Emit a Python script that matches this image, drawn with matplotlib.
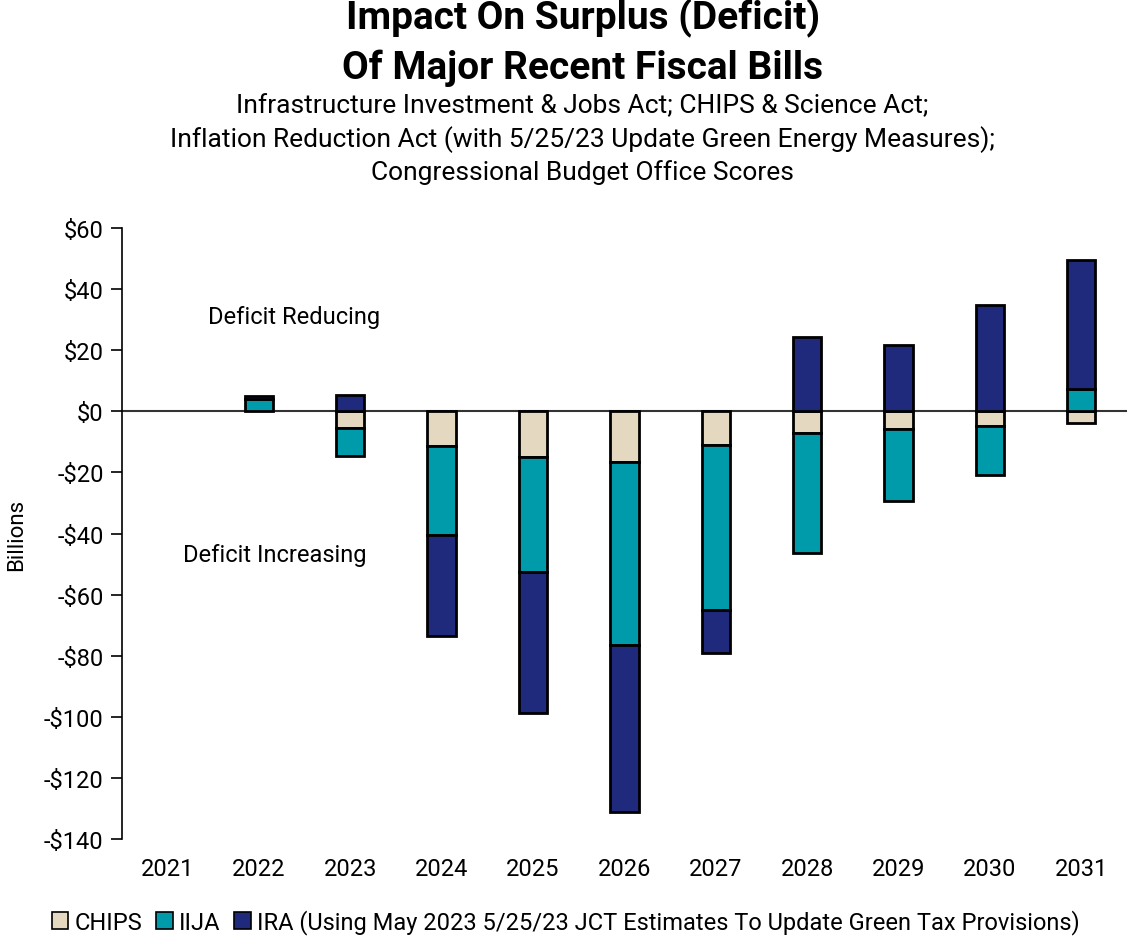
import numpy as np
import matplotlib
matplotlib.use("Agg")
import matplotlib.pyplot as plt

plt.rcParams["font.family"] = ["Roboto", "DejaVu Sans"]

# CBO scores, $ billions (positive = deficit reducing)
years = ["2021", "2022", "2023", "2024", "2025", "2026", "2027", "2028", "2029", "2030", "2031"]
chips = [0.0, 0.0, -5.5, -11.4, -14.9, -16.5, -11.0, -7.1, -5.9, -4.8, -3.7]
iija = [0.0, 4.2, -9.1, -29.2, -37.7, -59.9, -53.9, -39.3, -23.3, -16.1, 7.2]
ira = [0.0, 0.8, 5.4, -32.8, -46.1, -54.6, -14.2, 24.4, 21.6, 34.8, 42.4]

series = [
    ("CHIPS", chips, "#E4D9C0"),
    ("IIJA", iija, "#009BAA"),
    ("IRA (Using May 2023 5/25/23 JCT Estimates To Update Green Tax Provisions)", ira, "#1F2A7C"),
]

fig = plt.figure(figsize=(11.27, 9.37), dpi=100)
ax = fig.add_axes([0.108, 0.1035, 0.892, 0.652])

x = np.arange(len(years))
pos_base = np.zeros(len(years))
neg_base = np.zeros(len(years))
handles = []
for name, vals, color in series:
    v = np.array(vals)
    base = np.where(v >= 0, pos_base, neg_base)
    # zero entries are left out so no empty outline is drawn
    shown = np.where(v == 0, np.nan, v)
    b = ax.bar(x, shown, width=0.31, bottom=base, color=color, edgecolor="black",
               linewidth=2, label=name, zorder=3)
    handles.append(b)
    pos_base += np.where(v > 0, v, 0)
    neg_base += np.where(v < 0, v, 0)

ax.axhline(0, color="#333333", linewidth=1.5, zorder=2)

ax.set_xlim(-0.5, len(years) - 0.5)
ax.set_ylim(-140, 60)
ax.set_yticks(np.arange(-140, 61, 20))
ax.set_yticklabels([f"-${abs(t)}" if t < 0 else f"${t}" for t in range(-140, 61, 20)])
ax.set_xticks(x)
ax.set_xticklabels(years)
ax.tick_params(axis="y", labelsize=17, length=8, width=1.2, direction="out", pad=5)
ax.tick_params(axis="x", labelsize=17, length=0, pad=13)
for side in ["top", "right", "bottom"]:
    ax.spines[side].set_visible(False)
ax.spines["left"].set_linewidth(1.2)
ax.set_ylabel("Billions", fontsize=16, labelpad=12)

ax.text(1.39, 31, "Deficit Reducing", fontsize=17, ha="center", va="center")
ax.text(1.17, -47, "Deficit Increasing", fontsize=17, ha="center", va="center")

fig.text(0.517, 0.981, "Impact On Surplus (Deficit)", fontsize=28, fontweight="bold",
         ha="center", va="center")
fig.text(0.517, 0.927, "Of Major Recent Fiscal Bills", fontsize=28, fontweight="bold",
         ha="center", va="center")
fig.text(0.517, 0.887, "Infrastructure Investment & Jobs Act; CHIPS & Science Act;",
         fontsize=19, ha="center", va="center")
fig.text(0.517, 0.851, "Inflation Reduction Act (with 5/25/23 Update Green Energy Measures);",
         fontsize=19, ha="center", va="center")
fig.text(0.517, 0.816, "Congressional Budget Office Scores",
         fontsize=19, ha="center", va="center")

leg = fig.legend(handles=handles, loc="center", bbox_to_anchor=(0.502, 0.015), ncol=3,
                 frameon=False, fontsize=17, handlelength=0.7, handleheight=0.7,
                 handletextpad=0.25, columnspacing=0.6)
for p in leg.get_patches():
    p.set_linewidth(1.2)

fig.savefig("out.png", dpi=100)
